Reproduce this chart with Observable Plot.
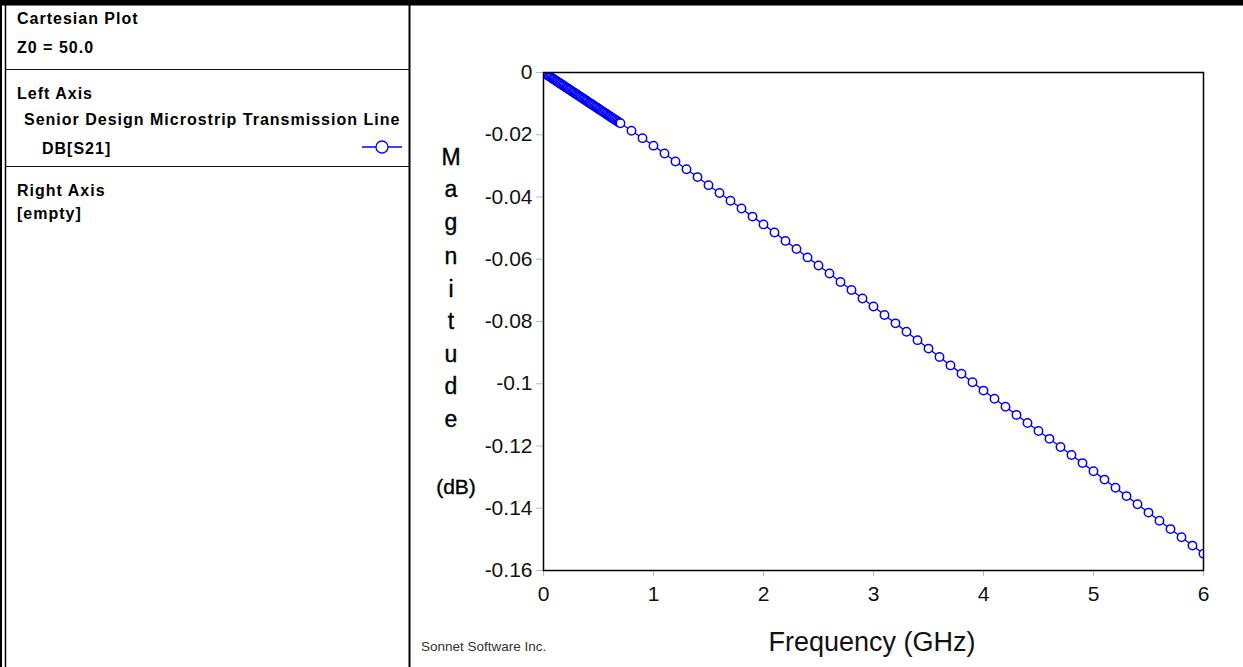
<!DOCTYPE html>
<html>
<head>
<meta charset="utf-8">
<script src="https://cdn.jsdelivr.net/npm/d3@7"></script>
<script src="https://cdn.jsdelivr.net/npm/@observablehq/plot@0.6"></script>
<style>
  html, body { margin: 0; padding: 0; background: white; }
  #root { position: relative; width: 1243px; height: 667px; overflow: hidden; background: white; font-family: "Liberation Sans", Arial, sans-serif; }
  #plot { position: absolute; left: 411px; top: 0; }
  #overlay { position: absolute; left: 0; top: 0; pointer-events: none; }
  .panel { font-family: "Liberation Sans", Arial, sans-serif; font-weight: bold; font-size: 16px; letter-spacing: 1px; fill: #000; }
</style>
</head>
<body>
<div id="root">
  <div id="plot"></div>
  <svg id="overlay" width="1243" height="667" xmlns="http://www.w3.org/2000/svg"></svg>
</div>
<script>
// ---- Data ----
const freqGHz = [
  0.00,0.01,0.02,0.03,0.04,0.05,0.06,0.07,0.08,0.09,
  0.10,0.11,0.12,0.13,0.14,0.15,0.16,0.17,0.18,0.19,
  0.20,0.21,0.22,0.23,0.24,0.25,0.26,0.27,0.28,0.29,
  0.30,0.31,0.32,0.33,0.34,0.35,0.36,0.37,0.38,0.39,
  0.40,0.41,0.42,0.43,0.44,0.45,0.46,0.47,0.48,0.49,
  0.50,0.51,0.52,0.53,0.54,0.55,0.56,0.57,0.58,0.59,
  0.60,0.61,0.62,0.63,0.64,0.65,0.66,0.67,0.68,0.69,
  0.7,0.8,0.9,1.0,
  1.1,1.2,1.3,1.4,1.5,1.6,1.7,1.8,1.9,2.0,
  2.1,2.2,2.3,2.4,2.5,2.6,2.7,2.8,2.9,3.0,
  3.1,3.2,3.3,3.4,3.5,3.6,3.7,3.8,3.9,4.0,
  4.1,4.2,4.3,4.4,4.5,4.6,4.7,4.8,4.9,5.0,
  5.1,5.2,5.3,5.4,5.5,5.6,5.7,5.8,5.9,6.0
];
const s21dB = [
  0,-0.0002,-0.0005,-0.0007,-0.0009,-0.0012,-0.0014,-0.0016,-0.0019,-0.0021,
  -0.0023,-0.0026,-0.0028,-0.0030,-0.0033,-0.0035,-0.0037,-0.0040,-0.0042,-0.0044,
  -0.0047,-0.0049,-0.0051,-0.0054,-0.0056,-0.0058,-0.0061,-0.0063,-0.0065,-0.0068,
  -0.0070,-0.0072,-0.0075,-0.0077,-0.0079,-0.0082,-0.0084,-0.0086,-0.0089,-0.0091,
  -0.0093,-0.0096,-0.0098,-0.0100,-0.0103,-0.0105,-0.0107,-0.0110,-0.0112,-0.0114,
  -0.0117,-0.0119,-0.0121,-0.0124,-0.0126,-0.0128,-0.0131,-0.0133,-0.0135,-0.0138,
  -0.0140,-0.0142,-0.0145,-0.0147,-0.0149,-0.0152,-0.0154,-0.0156,-0.0159,-0.0161,
  -0.0163,-0.0187,-0.0211,-0.0235,
  -0.0260,-0.0286,-0.0311,-0.0336,-0.0362,-0.0387,-0.0412,-0.0437,-0.0463,-0.0488,
  -0.0514,-0.0541,-0.0567,-0.0594,-0.0620,-0.0646,-0.0673,-0.0699,-0.0726,-0.0752,
  -0.0779,-0.0806,-0.0833,-0.0860,-0.0887,-0.0914,-0.0941,-0.0968,-0.0995,-0.1022,
  -0.1048,-0.1074,-0.1100,-0.1126,-0.1152,-0.1177,-0.1203,-0.1229,-0.1255,-0.1281,
  -0.1308,-0.1334,-0.1361,-0.1387,-0.1414,-0.1440,-0.1467,-0.1493,-0.1520,-0.1546
];
const xTicks = [0, 1, 2, 3, 4, 5, 6];
const yTicks = [0, -0.02, -0.04, -0.06, -0.08, -0.1, -0.12, -0.14, -0.16];
const yLabelLetters = ["M", "a", "g", "n", "i", "t", "u", "d", "e"];
const yLabelUnit = "(dB)";
const xLabel = "Frequency (GHz)";
const vendor = "Sonnet Software Inc.";
const panelLines = [
  {text: "Cartesian Plot", indent: 0, row: 0},
  {text: "Z0 = 50.0", indent: 0, row: 1},
  {text: "Left Axis", indent: 0, row: 2},
  {text: "Senior Design Microstrip Transmission Line", indent: 1, row: 3},
  {text: "DB[S21]", indent: 2, row: 4},
  {text: "Right Axis", indent: 0, row: 5},
  {text: "[empty]", indent: 0, row: 6}
];

const BLUE = "#0000ff";
const data = freqGHz.map((f, i) => ({f, db: s21dB[i]}));

const chart = Plot.plot({
  width: 832,
  height: 667,
  marginLeft: 132,
  marginRight: 40,
  marginTop: 72,
  marginBottom: 97,
  style: {background: "transparent", fontFamily: "'Liberation Sans', Arial, sans-serif", fontSize: "21px", color: "#111"},
  x: {domain: [0, 6]},
  y: {domain: [-0.16, 0]},
  marks: [
    Plot.axisY(yTicks, {tickSize: 7, tickPadding: 4, stroke: "#b8b8b8", fill: "#111", fontSize: 21, tickFormat: d => String(d), label: null}),
    Plot.axisX(xTicks, {tickSize: 6, tickPadding: 10, stroke: "#b8b8b8", fill: "#111", fontSize: 21, tickFormat: d => String(d), label: null}),
    Plot.line(data, {x: "f", y: "db", stroke: BLUE, strokeWidth: 1.3, clip: true}),
    Plot.dot(data, {x: "f", y: "db", r: 4.2, stroke: BLUE, fill: "white", strokeWidth: 1.5, clip: true}),
    Plot.frame({stroke: "black", strokeWidth: 1.5})
  ]
});
document.getElementById("plot").appendChild(chart);

// ---- Overlay: side panel, borders, axis titles ----
const ns = d3.select("#overlay");
const rowBase = [24, 53, 99, 125, 154, 196, 219];
const indentX = [17, 24, 42];
panelLines.forEach(l => {
  ns.append("text").attr("class", "panel").attr("x", indentX[l.indent]).attr("y", rowBase[l.row]).text(l.text);
});
// separators
[69, 166].forEach(y => ns.append("line").attr("x1", 5).attr("x2", 409).attr("y1", y + 0.5).attr("y2", y + 0.5).attr("stroke", "#111").attr("stroke-width", 1.2));
// legend symbol
ns.append("line").attr("x1", 362).attr("x2", 402).attr("y1", 147).attr("y2", 147).attr("stroke", BLUE).attr("stroke-width", 1.3);
ns.append("circle").attr("cx", 382).attr("cy", 147).attr("r", 6).attr("fill", "white").attr("stroke", BLUE).attr("stroke-width", 1.3);
// borders
ns.append("rect").attr("x", 0).attr("y", 0).attr("width", 1243).attr("height", 5).attr("fill", "#000");
ns.append("line").attr("x1", 0).attr("x2", 1243).attr("y1", 5.5).attr("y2", 5.5).attr("stroke", "#777").attr("stroke-width", 1);
ns.append("line").attr("x1", 1).attr("x2", 1).attr("y1", 0).attr("y2", 667).attr("stroke", "#000").attr("stroke-width", 2);
ns.append("line").attr("x1", 5.5).attr("x2", 5.5).attr("y1", 0).attr("y2", 667).attr("stroke", "#000").attr("stroke-width", 1.5);
ns.append("line").attr("x1", 409.5).attr("x2", 409.5).attr("y1", 0).attr("y2", 667).attr("stroke", "#000").attr("stroke-width", 2);
// y axis title (stacked letters)
const letterY = [157, 189, 222, 256, 289, 321, 354, 386, 419];
yLabelLetters.forEach((ch, i) => {
  ns.append("text").attr("x", 451).attr("y", letterY[i]).attr("text-anchor", "middle").attr("dominant-baseline", "central")
    .attr("font-family", "'Liberation Sans', Arial, sans-serif").attr("font-size", 23).attr("fill", "#000")
    .attr("stroke", "#000").attr("stroke-width", 0.35).text(ch);
});
ns.append("text").attr("x", 456).attr("y", 486).attr("text-anchor", "middle").attr("dominant-baseline", "central")
  .attr("font-family", "'Liberation Sans', Arial, sans-serif").attr("font-size", 21).attr("fill", "#000")
  .attr("stroke", "#000").attr("stroke-width", 0.35).text(yLabelUnit);
// x axis title
ns.append("text").attr("x", 872).attr("y", 651).attr("text-anchor", "middle")
  .attr("font-family", "'Liberation Sans', Arial, sans-serif").attr("font-size", 27).attr("fill", "#111").text(xLabel);
// vendor
ns.append("text").attr("x", 421).attr("y", 651)
  .attr("font-family", "'Liberation Sans', Arial, sans-serif").attr("font-size", 13.5).attr("fill", "#333").text(vendor);
</script>
</body>
</html>
